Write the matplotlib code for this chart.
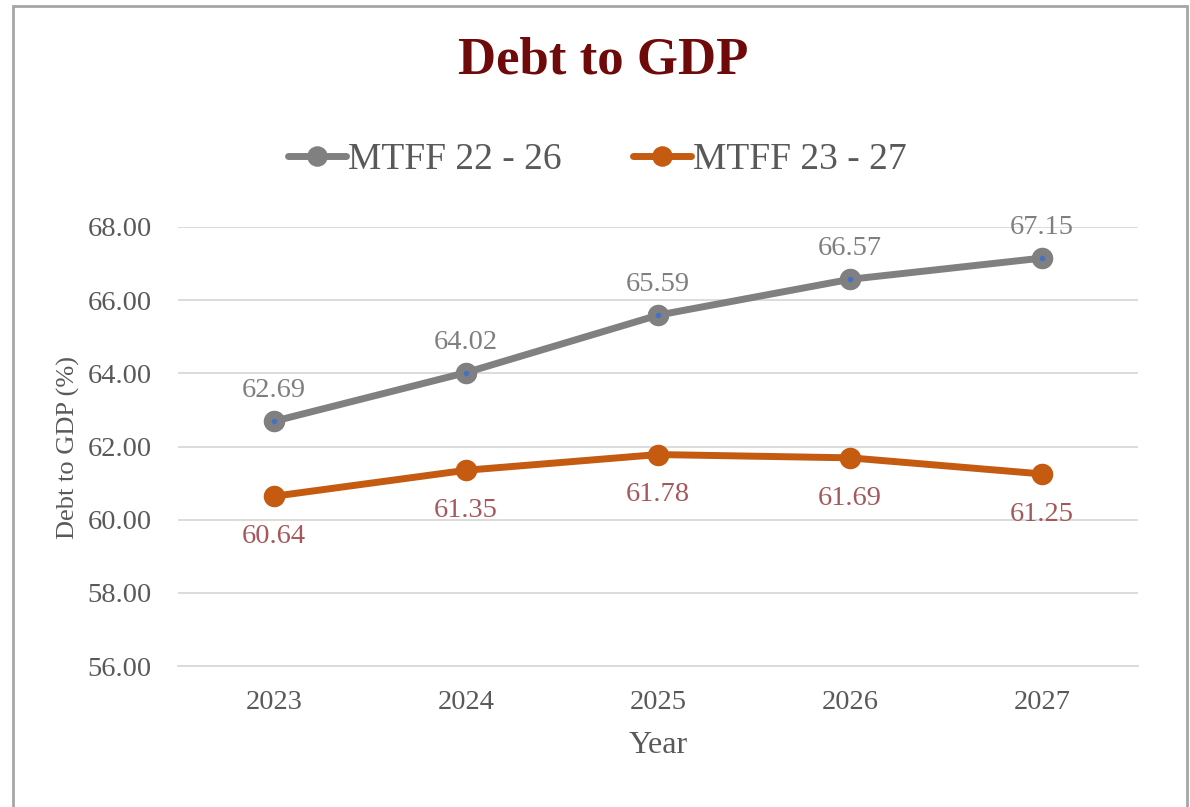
import matplotlib.pyplot as plt
from matplotlib.patches import Rectangle

# data
years = ["2023", "2024", "2025", "2026", "2027"]
mtff_22_26 = [62.69, 64.02, 65.59, 66.57, 67.15]
mtff_23_27 = [60.64, 61.35, 61.78, 61.69, 61.25]
y_ticks = [56, 58, 60, 62, 64, 66, 68]

plt.rcParams['font.family'] = ['Liberation Serif', 'DejaVu Serif']

fig = plt.figure(figsize=(11.9, 8.07), dpi=100)
ax = fig.add_axes([178 / 1190, 1 - 666 / 807, 960 / 1190, 439 / 807])

# chart border like the Excel frame
fig.patches.append(Rectangle((13 / 1190, -0.05), (1187 - 13) / 1190, 1.05 - 6 / 807,
                             transform=fig.transFigure, fill=False,
                             edgecolor='#a6a6a6', linewidth=2))

x = range(len(years))
gray = '#808080'
orange = '#c55a11'

ax.plot(x, mtff_22_26, color=gray, linewidth=5, marker='o', markersize=14.5,
        markerfacecolor=gray, markeredgecolor=gray, solid_capstyle='round',
        label='MTFF 22 - 26', zorder=3)
# tiny blue dot in the centre of grey markers
ax.plot(x, mtff_22_26, linestyle='none', marker='o', markersize=3,
        color='#4472c4', zorder=4)
ax.plot(x, mtff_23_27, color=orange, linewidth=5, marker='o', markersize=14.5,
        solid_capstyle='round', label='MTFF 23 - 27', zorder=3)

for i, v in enumerate(mtff_22_26):
    ax.annotate(f"{v:.2f}", (i, v), xytext=(0, 13), textcoords='offset points',
                ha='center', va='bottom', fontsize=20.5, color='#7f7f7f')
for i, v in enumerate(mtff_23_27):
    ax.annotate(f"{v:.2f}", (i, v), xytext=(0, -20), textcoords='offset points',
                ha='center', va='top', fontsize=20.5, color='#a5585b')

ax.set_xlim(-0.5, 4.5)
ax.set_ylim(56, 68)
ax.set_xticks(list(x))
ax.set_xticklabels(years)
ax.set_yticks(y_ticks)
ax.set_yticklabels([f"{t:.2f}" for t in y_ticks])
ax.tick_params(axis='both', length=0, labelsize=20.5, labelcolor='#595959')
ax.tick_params(axis='x', pad=17)
ax.tick_params(axis='y', pad=19)
ax.grid(axis='y', color='#d9d9d9', linewidth=1.3)
ax.set_axisbelow(True)
for s in ['top', 'right', 'left']:
    ax.spines[s].set_visible(False)
ax.spines['bottom'].set_color('#d9d9d9')
ax.spines['bottom'].set_linewidth(1.3)

ax.set_xlabel("Year", fontsize=23, color='#595959', labelpad=12)
ax.set_ylabel("Debt to GDP (%)", fontsize=19, color='#595959')
ax.yaxis.set_label_coords(-0.102, 0.497)

fig.text(0.507, 1 - 60 / 807, "Debt to GDP", ha='center', va='center',
         fontsize=38, fontweight='bold', color='#6e0a0a')

leg = fig.legend(loc='center', bbox_to_anchor=(0.502, 1 - 160 / 807), ncol=2,
                 frameon=False, fontsize=27, handlelength=1.55, columnspacing=1.9,
                 handletextpad=0.05, labelcolor='#595959', markerscale=0.95)

fig.savefig("out.png", dpi=100)
